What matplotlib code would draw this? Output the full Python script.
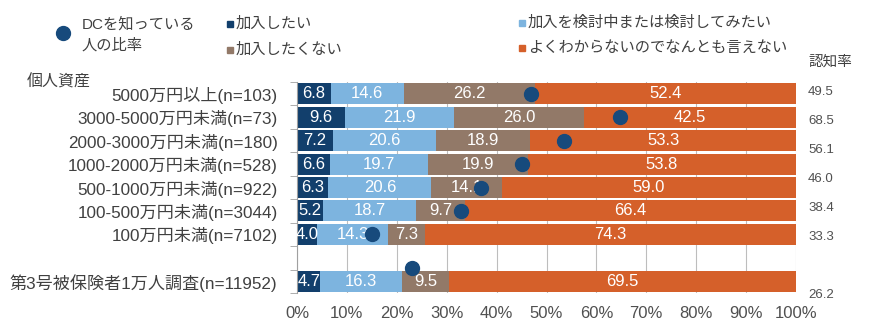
import matplotlib
matplotlib.use("Agg")
import matplotlib.pyplot as plt
from matplotlib.lines import Line2D
import numpy as np

plt.rcParams['font.family'] = ['Liberation Sans', 'Noto Sans CJK JP', 'DejaVu Sans']

# --- data ---
categories = ["5000万円以上(n=103)", "3000-5000万円未満(n=73)", "2000-3000万円未満(n=180)",
              "1000-2000万円未満(n=528)", "500-1000万円未満(n=922)", "100-500万円未満(n=3044)",
              "100万円未満(n=7102)", "", "第3号被保険者1万人調査(n=11952)"]
series_names = ["加入したい", "加入を検討中または検討してみたい", "加入したくない",
                "よくわからないのでなんとも言えない"]
want = [6.8, 9.6, 7.2, 6.6, 6.3, 5.2, 4.0, np.nan, 4.7]
consider = [14.6, 21.9, 20.6, 19.7, 20.6, 18.7, 14.3, np.nan, 16.3]
not_want = [26.2, 26.0, 18.9, 19.9, 14.1, 9.7, 7.3, np.nan, 9.5]
unsure = [52.4, 42.5, 53.3, 53.8, 59.0, 66.4, 74.3, np.nan, 69.5]

# DC awareness dots (x value, row position)
dot_x = [46.9, 64.8, 53.5, 45.0, 36.9, 32.8, 15.0, 23.1]
dot_row = [0, 1, 2, 3, 4, 5, 6, 7.45]

# 認知率 column on the right
ninchi = ["49.5", "68.5", "56.1", "46.0", "38.4", "33.3", "26.2"]
ninchi_slot = [0, 1, 2, 3, 4, 5, 7]

colors = ["#123f6c", "#7db4df", "#927968", "#d5602a"]
dot_color = "#174a7c"
W, H = 870, 335

fig = plt.figure(figsize=(W / 100, H / 100), dpi=100)
ax = fig.add_axes([297 / W, 1 - 293 / H, (796 - 297) / W, (293 - 82) / H])

y = np.arange(len(categories))
left = np.zeros(len(categories))
for vals, c in zip([want, consider, not_want, unsure], colors):
    v = np.nan_to_num(np.array(vals, dtype=float))
    ax.barh(y, v, left=left, height=0.9, color=c, edgecolor="none", zorder=2)
    for yi, (l, w) in enumerate(zip(left, v)):
        if w > 0:
            ax.text(l + w / 2, yi, f"{w:.1f}", ha="center", va="center",
                    color="white", fontsize=12, zorder=3)
    left += v

ax.plot(dot_x, dot_row, "o", color=dot_color, ms=10, zorder=4, linestyle="none")

ax.set_xlim(0, 100)
ax.set_ylim(len(categories) - 0.5, -0.5)
ax.set_xticks(np.arange(0, 101, 10))
ax.set_xticklabels([f"{t}%" for t in range(0, 101, 10)])
ax.set_yticks(y)
ax.set_yticklabels(categories)
ax.set_yticks(np.arange(-0.5, len(categories)), minor=True)
ax.tick_params(axis="y", which="major", length=0, pad=14, labelsize=12.3, labelcolor="#404040")
ax.tick_params(axis="y", which="minor", length=5, color="#a0a0a0")
ax.tick_params(axis="x", length=0, pad=9, labelsize=12, labelcolor="#505050")
ax.grid(axis="x", color="#bdbdbd", linewidth=0.8, zorder=0)
ax.set_axisbelow(True)
for s in ["top", "right", "bottom"]:
    ax.spines[s].set_visible(False)
ax.spines["left"].set_color("#a0a0a0")

# 個人資産 header and 認知率 column
fig.text(27 / W, 1 - 82 / H, "個人資産", ha="left", va="center", fontsize=11.5, color="#404040")
fig.text(808 / W, 1 - 62 / H, "認知率", ha="left", va="center", fontsize=10.5, color="#404040")
for txt, s in zip(ninchi, ninchi_slot):
    fig.text(808 / W, 1 - (92 + 29 * s) / H, txt, ha="left", va="center",
             fontsize=9.5, color="#505050")

# legend
fig.add_artist(Line2D([63 / W], [1 - 33 / H], marker="o", ms=10, color=dot_color,
                      transform=fig.transFigure))
fig.text(82 / W, 1 - 24 / H, "DCを知っている", ha="left", va="center", fontsize=11, color="#404040")
fig.text(82 / W, 1 - 45 / H, "人の比率", ha="left", va="center", fontsize=11, color="#404040")
leg_pos = [(230, 24), (522, 23), (230, 50), (522, 48)]
for name, c, (lx, ly) in zip(series_names, colors, leg_pos):
    fig.add_artist(Line2D([lx / W], [1 - ly / H], marker="s", ms=5, color=c,
                          transform=fig.transFigure))
    fig.text((lx + 6) / W, 1 - ly / H, name, ha="left", va="center", fontsize=11, color="#404040")

fig.savefig("out.png", dpi=100)
